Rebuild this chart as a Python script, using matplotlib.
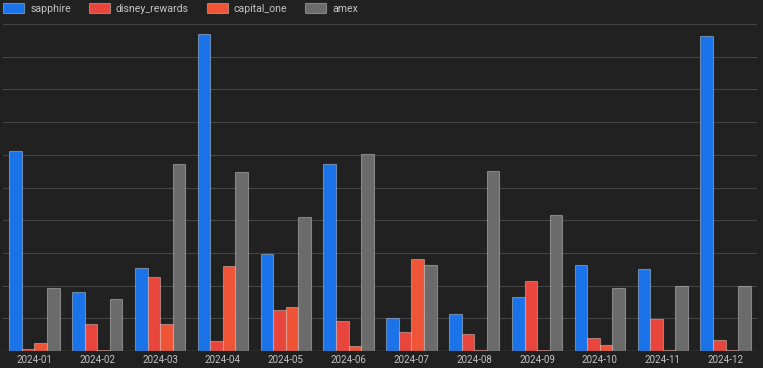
import matplotlib.pyplot as plt
import numpy as np

plt.rcParams['font.family'] = ['Roboto', 'DejaVu Sans']

months = ['2024-01', '2024-02', '2024-03', '2024-04', '2024-05', '2024-06',
          '2024-07', '2024-08', '2024-09', '2024-10', '2024-11', '2024-12']
sapphire = [6.12, 1.80, 2.54, 9.69, 2.97, 5.72, 1.00, 1.14, 1.64, 2.63, 2.50, 9.63]
disney_rewards = [0.05, 0.83, 2.26, 0.31, 1.24, 0.91, 0.57, 0.51, 2.13, 0.41, 0.98, 0.34]
capital_one = [0.24, 0.02, 0.83, 2.60, 1.35, 0.15, 2.81, 0.02, 0.02, 0.17, 0.02, 0.03]
amex = [1.92, 1.58, 5.72, 5.47, 4.10, 6.02, 2.63, 5.50, 4.16, 1.92, 1.98, 2.00]

series = [('sapphire', sapphire, '#1a73e8'),
          ('disney_rewards', disney_rewards, '#e8453c'),
          ('capital_one', capital_one, '#f05436'),
          ('amex', amex, '#6b6b6b')]

bg = '#212121'
fig = plt.figure(figsize=(7.63, 3.68), dpi=100, facecolor=bg)
ax = fig.add_axes([3 / 763, 17 / 368, 754 / 763, 327 / 368])
ax.set_facecolor(bg)

x = np.arange(len(months))
w = 0.2
for i, (name, vals, col) in enumerate(series):
    ax.bar(x + (i - 1.5) * w, vals, width=w, color=col, label=name,
           edgecolor=(1, 1, 1, 0.35), linewidth=0.8, zorder=3)

ax.set_xlim(-0.5, len(months) - 0.5)
ax.set_ylim(0, 10)
ax.set_yticks(np.arange(0, 11, 1))
ax.yaxis.grid(True, color='#434343', linewidth=0.8, zorder=0)
ax.set_yticklabels([])
ax.tick_params(axis='y', length=0)
ax.set_xticks(x)
ax.set_xticklabels(months, fontsize=7, color='#c4c4c4')
ax.tick_params(axis='x', length=0, pad=3)
for s in ax.spines.values():
    s.set_visible(False)
ax.axhline(0, color='#5a5a5a', linewidth=1, zorder=4)

fig.legend(loc='upper left', bbox_to_anchor=(0.0, 1.0), ncol=4, frameon=False,
           fontsize=7.6, labelcolor='#c4c4c4', handlelength=2.0, handleheight=1.05,
           columnspacing=1.7, handletextpad=0.55, borderaxespad=0.1, borderpad=0.2)

fig.savefig('out.png', dpi=100, facecolor=bg)
